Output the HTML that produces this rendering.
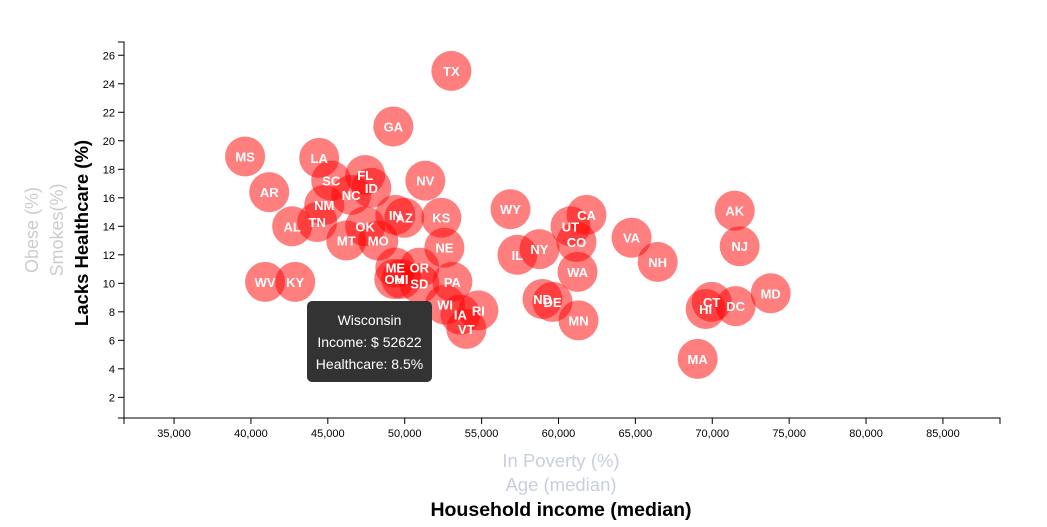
<!DOCTYPE html>
<html><head><meta charset="utf-8"><style>
body{margin:0;background:#fff;font-family:"Liberation Sans",sans-serif;}
#wrap{position:relative;width:1047px;height:527px;overflow:hidden;}
.tip{position:absolute;left:307px;top:301px;width:125px;height:81px;background:#333;border-radius:5px;color:#fff;font-size:14px;text-align:center;line-height:22px;padding-top:8px;box-sizing:border-box;}
</style></head><body><div id="wrap">
<svg id="chart" width="1047" height="527"></svg>
<div class="tip">Wisconsin<br>Income: $ 52622<br>Healthcare: 8.5%</div>
</div>
<script>
const states=["TX","GA","MS","LA","FL","SC","ID","NC","NV","AR","NM","IN","AZ","KS","TN","AL","OK","MT","MO","NE","ME","OR","OH","MI","SD","PA","WV","KY","WI","IA","RI","VT","WY","IL","NY","UT","CA","CO","WA","ND","DE","MN","VA","NH","MA","AK","NJ","CT","HI","DC","MD"];
const income=[53034,49260,39620,44440,47430,45220,47830,46520,51340,41190,44770,49390,49970,52380,44310,42680,47430,46200,48280,52580,49390,50950,49320,49780,50950,53100,40920,42880,52622,53620,54790,54010,56880,57330,58760,60780,61820,61170,61240,58960,59610,61300,64750,66450,69050,71460,71780,69960,69570,71520,73800];
const healthcare=[24.9,21.0,18.9,18.8,17.6,17.2,16.7,16.2,17.2,16.4,15.5,14.8,14.6,14.6,14.3,14.0,14.0,13.0,13.0,12.5,11.1,11.1,10.3,10.3,10.0,10.1,10.1,10.1,8.5,7.8,8.1,6.8,15.2,12.0,12.4,14.0,14.8,12.9,10.8,8.9,8.7,7.4,13.2,11.5,4.7,15.1,12.6,8.7,8.2,8.4,9.3];
const xTicks=[35000,40000,45000,50000,55000,60000,65000,70000,75000,80000,85000];
const yTicks=[2,4,6,8,10,12,14,16,18,20,22,24,26];
const X0=124,X1=1000,Y0=418,Y1=42;
const xMin=31746,xMax=88711,yMin=0.55,yMax=26.93;
const xs=v=>X0+(v-xMin)/(xMax-xMin)*(X1-X0);
const ys=v=>Y0-(v-yMin)/(yMax-yMin)*(Y0-Y1);
const NS="http://www.w3.org/2000/svg";
const svg=document.getElementById('chart');
function mk(t,a,p){const e=document.createElementNS(NS,t);for(const k in a)e.setAttribute(k,a[k]);(p||svg).appendChild(e);return e;}
const ax=mk('g',{});


mk('path',{d:`M${X0},${Y0+6}V${Y0}H${X1}V${Y0+6}`,stroke:'#000',fill:'none'},ax);
xTicks.forEach(t=>{const x=xs(t);mk('line',{x1:x,x2:x,y1:Y0,y2:Y0+6,stroke:'#000'},ax);
const tx=mk('text',{x:x,y:Y0+19,'text-anchor':'middle','font-size':11,fill:'#000'},ax);tx.textContent=t.toLocaleString('en-US');

});
const ay=mk('g',{});


mk('path',{d:`M${X0-6},${Y1}H${X0}V${Y0}H${X0-6}`,stroke:'#000',fill:'none'},ay);
yTicks.forEach(t=>{const y=ys(t);mk('line',{x1:X0-6,x2:X0,y1:y,y2:y,stroke:'#000'},ay);
const tx=mk('text',{x:X0-9,y:y+4,'text-anchor':'end','font-size':11,fill:'#000'},ay);tx.textContent=t;

});
const g=mk('g',{});


states.forEach((s,i)=>{const c=mk('circle',{cx:xs(income[i]),cy:ys(healthcare[i]),r:20,fill:'rgba(255,0,0,0.5)'},g);

});
states.forEach((s,i)=>{const t=mk('text',{x:xs(income[i]),y:ys(healthcare[i])+5,'text-anchor':'middle','font-size':13,'font-weight':'bold',fill:'#fff'},g);t.textContent=s;

});
function lab(txt,x,y,o,name,inter){const t=mk('text',Object.assign({x:x,y:y,'text-anchor':'middle'},o));t.textContent=txt;

return t;}
lab('In Poverty (%)',561,467,{'font-size':18.5,fill:'#c8cfdc'},'x-label-poverty','true');
lab('Age (median)',561,491,{'font-size':18.5,fill:'#c8cfdc'},'x-label-age','true');
lab('Household income (median)',561,516,{'font-size':19.5,'font-weight':'bold',fill:'#000'},'x-label-income','true');
lab('Lacks Healthcare (%)',0,0,{'font-size':18.5,'font-weight':'bold',fill:'#000',transform:'translate(88,233) rotate(-90)'},'y-label-healthcare','true');
lab('Smokes(%)',0,0,{'font-size':18,fill:'#ccc',transform:'translate(63,230) rotate(-90)'},'y-label-smokes','true');
lab('Obese (%)',0,0,{'font-size':18,fill:'#ccc',transform:'translate(38,230) rotate(-90)'},'y-label-obese','true');
</script></body></html>
